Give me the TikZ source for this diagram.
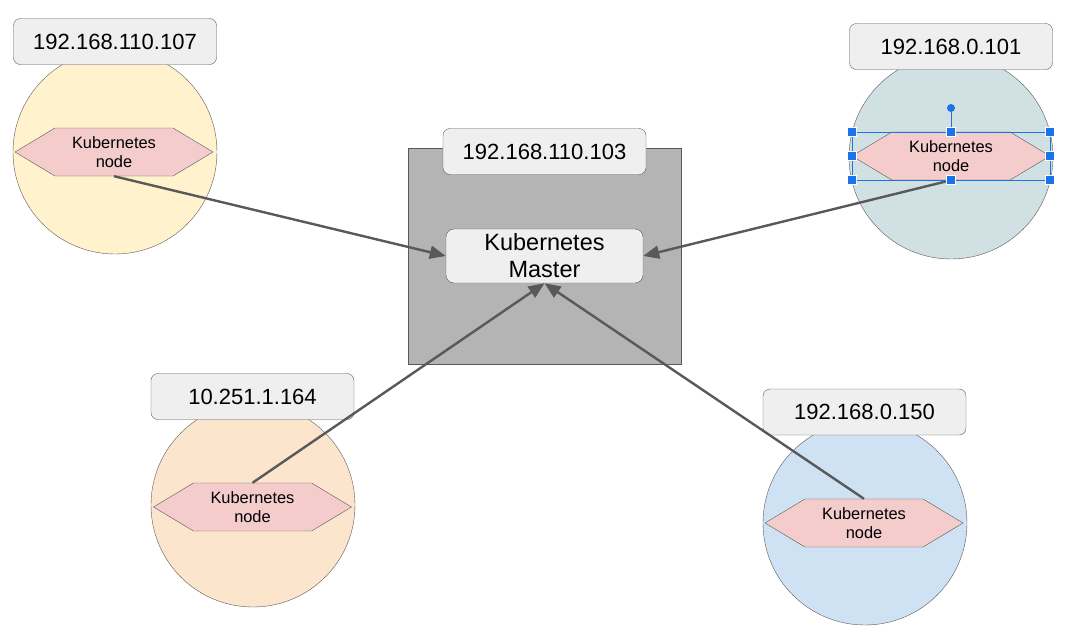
\documentclass[tikz,border=0pt]{standalone}
\usepackage{fontspec}
\setmainfont{Liberation Sans}
\usepackage{tikz}
\usetikzlibrary{arrows.meta,shapes.symbols}
\definecolor{linegray}{HTML}{595959}
\definecolor{tagfill}{HTML}{EFEFEF}
\definecolor{hexfill}{HTML}{F4CCCC}
\definecolor{hostfill}{HTML}{B4B4B4}
\definecolor{yellowfill}{HTML}{FFF2CC}
\definecolor{tealfill}{HTML}{D0E0E3}
\definecolor{orangefill}{HTML}{FCE5CD}
\definecolor{bluefill}{HTML}{CFE2F3}
\definecolor{selblue}{HTML}{1A73E8}
\tikzstyle{machine} = [draw=linegray, circle, minimum size=204pt, inner sep=0pt]
\tikzstyle{iptag} = [draw=linegray, fill=tagfill, rectangle, rounded corners=7pt, minimum width=203pt, minimum height=46pt, inner sep=0pt, font=\fontsize{22}{26}\selectfont]
\tikzstyle{kubenode} = [draw=linegray, fill=hexfill, signal, signal to=west and east, signal pointer angle=62, minimum width=198pt, minimum height=48pt, inner sep=0pt, align=center, font=\fontsize{16.4}{19.5}\selectfont]
\tikzstyle{host} = [draw=linegray, fill=hostfill, rectangle, minimum width=273pt, minimum height=216pt]
\tikzstyle{master} = [draw=linegray, fill=tagfill, rectangle, rounded corners=8pt, minimum width=197pt, minimum height=54pt, inner sep=0pt, align=center, font=\fontsize{23.5}{27}\selectfont]
\tikzstyle{link} = [draw=linegray, line width=2.4pt, -{Triangle[length=16pt,width=13pt]}]
\tikzstyle{handle} = [fill=selblue, draw=white, line width=0.6pt, rectangle, minimum size=9pt, inner sep=0pt]

\begin{document}
\begin{tikzpicture}[x=1pt, y=-1pt]
\useasboundingbox (0,0) rectangle (1077,635);

\node [host] (hostbox) at (544.5,256) {};
\node [master] (kmaster) at (544.5,256) {Kubernetes\\Master};
\node [iptag] (masterip) at (544.5,151.5) {192.168.110.103};

\node [machine, fill=yellowfill] (pcA) at (115,152) {};
\node [iptag] (ipA) at (115,41.5) {192.168.110.107};
\node [kubenode] (knA) at (114,152) {Kubernetes\\node};

\node [machine, fill=tealfill] (pcB) at (951,157) {};
\node [iptag] (ipB) at (951,46.5) {192.168.0.101};
\node [kubenode] (knB) at (951,156) {Kubernetes\\node};

\node [machine, fill=orangefill] (pcC) at (253,505) {};
\node [iptag] (ipC) at (252.5,396.5) {10.251.1.164};
\node [kubenode] (knC) at (252.5,507) {Kubernetes\\node};

\node [machine, fill=bluefill] (pcD) at (865,523) {};
\node [iptag] (ipD) at (864.5,412) {192.168.0.150};
\node [kubenode] (knD) at (864,523) {Kubernetes\\node};

\draw [link] (knA.south) -- (kmaster.west);
\draw [link] (knB.south) -- (kmaster.east);
\draw [link] (knC.north) -- (kmaster.south);
\draw [link] (knD.north) -- (kmaster.south);

% selection frame
\draw [selblue, line width=0.8pt] (852,132) rectangle (1050,180);
\draw [selblue, line width=0.8pt] (951,108) -- (951,132);
\fill [selblue] (951,108) circle (4pt);
\foreach \hx/\hy in {852/132,951/132,1050/132,852/156,1050/156,852/180,951/180,1050/180}
  \node [handle] at (\hx,\hy) {};
\end{tikzpicture}
\end{document}
